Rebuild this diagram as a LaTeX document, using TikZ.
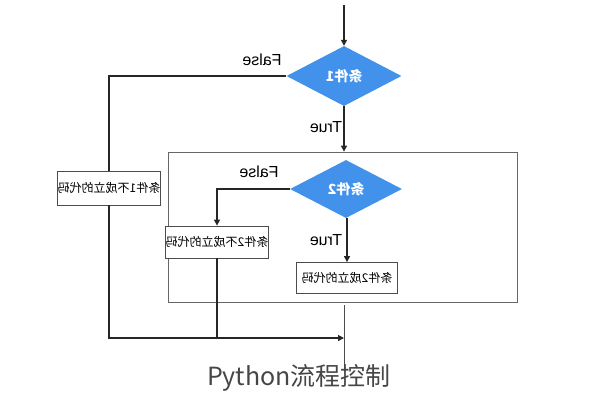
\documentclass[tikz,border=0pt]{standalone}
\usepackage{graphicx}
\usepackage{fontspec}
\setmainfont{Noto Sans CJK SC}
\newfontfamily\latinsans{Liberation Sans}
\usetikzlibrary{shapes.geometric,arrows.meta}
\definecolor{dblue}{RGB}{66,146,235}
\definecolor{capgray}{RGB}{70,70,70}
\tikzset{
  decision/.style={diamond, fill=dblue, draw=none, minimum width=115pt, minimum height=60pt, inner sep=0pt, text=white, font=\bfseries\fontsize{14}{14}\selectfont},
  codebox/.style={draw=black!70, line width=0.8pt, fill=white, inner sep=0pt, font=\fontsize{12}{12}\selectfont},
  conn/.style={black!85, line width=1.2pt},
  arr/.style={conn, -{Triangle[length=6pt,width=6pt]}},
  lbl/.style={font=\latinsans\fontsize{16}{16}\selectfont, inner sep=0pt},
}
\begin{document}
\begin{tikzpicture}[x=1pt,y=-1pt]
\useasboundingbox (0,0) rectangle (593,400);
% outer frame
\node[draw=black!60, line width=0.8pt, minimum width=349pt, minimum height=150pt, inner sep=0pt] (outer) at (342.5,227) {};
% decisions
\node[decision] (d1) at (344,76) {\reflectbox{条件1}};
\node[decision, minimum width=112pt, minimum height=58pt] (d2) at (346,189) {\reflectbox{条件2}};
% boxes
\node[codebox, minimum width=95pt, minimum height=34pt] (b1) at (109,188) {\reflectbox{条件1不成立的代码}};
\node[codebox, minimum width=98pt, minimum height=32pt] (b2) at (217,242) {\reflectbox{条件2不成立的代码}};
\node[codebox, minimum width=101pt, minimum height=31pt] (b3) at (347,278) {\reflectbox{条件2成立的代码}};
% coordinates
\coordinate (top) at (344,5);
\coordinate (j) at (344,338);
\coordinate (e1) at (344,305);
\coordinate (e2) at (344,372);
% connectors
\draw[arr] (top) -- (d1.north);
\draw[conn] (d1.west) -| (b1.north);
\draw[arr] (b1.south) |- (j);
\draw[arr] (d1.south) -- (d1.south |- outer.north);
\draw[arr] (d2.west) -| (b2.north);
\draw[conn] (b2.south) -- (b2.south |- j);
\draw[arr] (d2.south -| b3.north) -- (b3.north);
\draw[black!70, line width=1pt] (e1) -- (e2);
% labels
\node[lbl] (f1) at (262,60) {\reflectbox{False}};
\node[lbl] (t1) at (326,127) {\reflectbox{True}};
\node[lbl] (f2) at (259,172) {\reflectbox{False}};
\node[lbl] (t2) at (326,240) {\reflectbox{True}};
% caption
\node[text=capgray, font=\fontsize{25}{25}\selectfont, inner sep=0pt] (cap) at (299,378) {Python流程控制};
\end{tikzpicture}
\end{document}
